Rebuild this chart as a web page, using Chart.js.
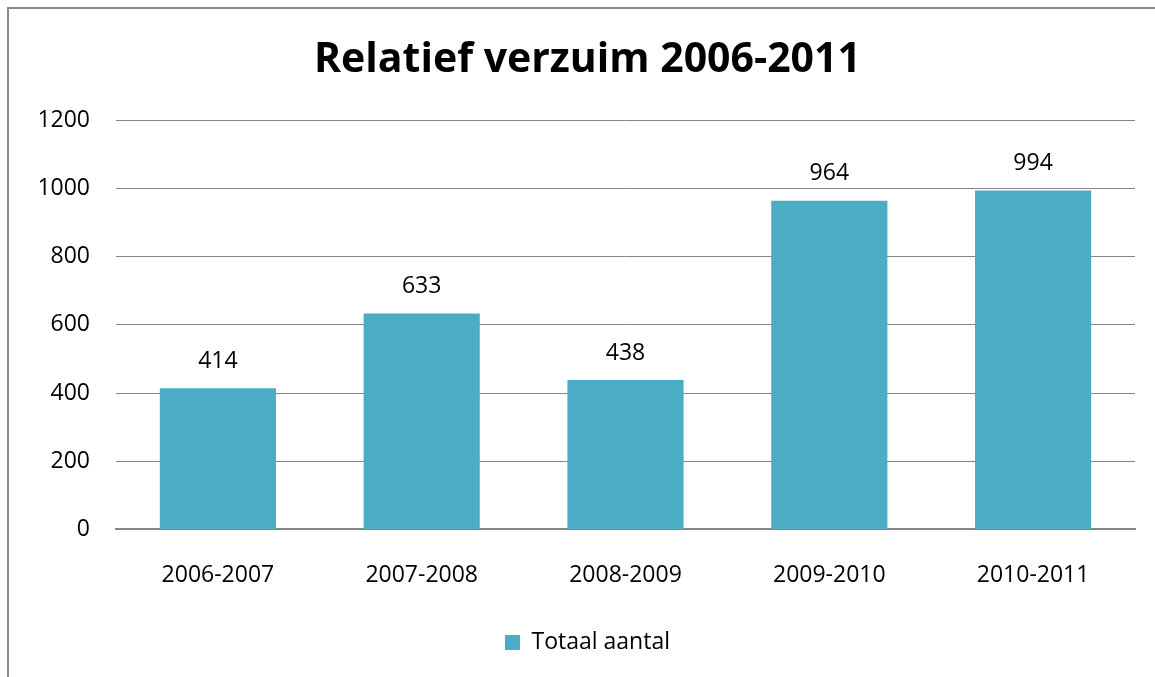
<!DOCTYPE html>
<html lang="nl">

<head>
  <meta charset="utf-8">
  <title>Relatief verzuim 2006-2011</title>
  <script src="https://cdn.jsdelivr.net/npm/chart.js@4.4.1/dist/chart.umd.min.js"></script>
  <style>
    body { margin: 0; background: #fff; }
    #wrap { position: relative; width: 1155px; height: 677px; }
    #frame {
      position: absolute; left: 7px; top: 7px; right: -10px; bottom: -10px;
      border-left: 2px solid #898989; border-top: 2px solid #898989;
      pointer-events: none;
    }
  </style>
</head>

<body>
  <div id="wrap">
    <canvas id="chart" width="1155" height="677"></canvas>
    <div id="frame"></div>
  </div>
  <script>
    const seasons = ['2006-2007', '2007-2008', '2008-2009', '2009-2010', '2010-2011'];
    const totals = [414, 633, 438, 964, 994];
    const yTicks = [0, 200, 400, 600, 800, 1000, 1200];

    const FONT = "'Open Sans', 'Noto Sans', sans-serif";

    // simple value labels above the bars (no datalabels plugin offline)
    const barLabels = {
      id: 'barLabels',
      afterDatasetsDraw(chart) {
        const ctx = chart.ctx;
        const meta = chart.getDatasetMeta(0);
        ctx.save();
        ctx.font = '23px ' + FONT;
        ctx.fillStyle = '#000';
        ctx.textAlign = 'center';
        ctx.textBaseline = 'middle';
        meta.data.forEach((bar, i) => {
          ctx.fillText(String(totals[i]), bar.x, bar.y - 27);
        });
        ctx.restore();
      }
    };

    const ctx = document.getElementById('chart').getContext('2d');
    new Chart(ctx, {
      type: 'bar',
      data: {
        labels: seasons,
        datasets: [{
          label: 'Totaal aantal',
          data: totals,
          backgroundColor: '#4bacc6',
          borderWidth: 0,
          categoryPercentage: 1,
          barPercentage: 0.57
        }]
      },
      plugins: [barLabels],
      options: {
        responsive: false,
        animation: false,
        layout: { padding: { left: 40, right: 20, top: 0, bottom: 13 } },
        plugins: {
          title: {
            display: true,
            text: 'Relatief verzuim 2006-2011',
            color: '#000',
            font: { family: FONT, size: 41, weight: 'bold', lineHeight: 1.2 },
            padding: { top: 36, bottom: 35 }
          },
          legend: {
            position: 'bottom',
            labels: {
              color: '#000',
              font: { family: FONT, size: 23 },
              boxWidth: 15,
              boxHeight: 15,
              padding: 10
            }
          },
          tooltip: { enabled: false }
        },
        scales: {
          x: {
            grid: { display: false, drawTicks: false },
            border: { color: '#868686', width: 2 },
            ticks: { color: '#000', font: { family: FONT, size: 23 }, padding: 32 }
          },
          y: {
            min: 0,
            max: 1200,
            afterFit(scale) { scale.width = 76; },
            afterBuildTicks(scale) { scale.ticks = yTicks.map(v => ({ value: v })); },
            grid: { color: '#868686', lineWidth: 1, drawTicks: false },
            border: { display: false },
            ticks: {
              color: '#000',
              font: { family: FONT, size: 23 },
              padding: 26,
              callback: (value) => String(value)
            }
          }
        }
      }
    });
  </script>
</body>

</html>
